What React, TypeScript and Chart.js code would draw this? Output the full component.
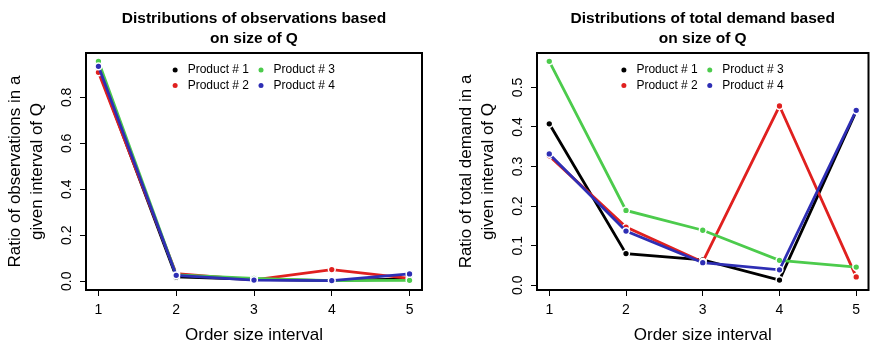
import React, { useEffect, useRef } from "react";
import { Chart, registerables } from "chart.js";

Chart.register(...registerables);

const FONT = "'Liberation Sans', Arial, Helvetica, sans-serif";

// ---- data ----
const ORDER_INTERVALS = [1, 2, 3, 4, 5];
const PRODUCT_NAMES = ["Product # 1", "Product # 2", "Product # 3", "Product # 4"];
const PRODUCT_COLORS = ["#000000", "#E0201F", "#4CCB4C", "#2E2EB4"];

// Left panel: ratio of observations
const OBS_P1 = [0.92, 0.019, 0.008, 0.003, 0.01];
const OBS_P2 = [0.909, 0.033, 0.006, 0.051, 0.013];
const OBS_P3 = [0.957, 0.028, 0.012, 0.003, 0.004];
const OBS_P4 = [0.935, 0.026, 0.005, 0.003, 0.032];
const OBS_Y_TICKS = [0, 0.2, 0.4, 0.6, 0.8];
const OBS_Y_RANGE = [-0.038, 0.993];

// Right panel: ratio of total demand
const DEM_P1 = [0.408, 0.08, 0.064, 0.013, 0.44];
const DEM_P2 = [0.327, 0.147, 0.059, 0.453, 0.021];
const DEM_P3 = [0.566, 0.189, 0.139, 0.063, 0.046];
const DEM_P4 = [0.332, 0.137, 0.057, 0.039, 0.442];
const DEM_Y_TICKS = [0, 0.1, 0.2, 0.3, 0.4, 0.5];
const DEM_Y_RANGE = [-0.012, 0.587];

const X_RANGE = [0.84, 5.16];

const OBS_TITLE = ["Distributions of observations based", "on size of Q"];
const DEM_TITLE = ["Distributions of total demand based", "on size of Q"];
const OBS_Y_TITLE = ["Ratio of observations in a", "given interval of Q"];
const DEM_Y_TITLE = ["Ratio of total demand in a", "given interval of Q"];
const X_TITLE = "Order size interval";

const boxPlugin = {
  id: "rBox",
  afterDatasetsDraw(chart: any) {
    const { ctx, chartArea } = chart;
    ctx.save();
    ctx.strokeStyle = "#000";
    ctx.lineWidth = 2;
    ctx.strokeRect(
      chartArea.left,
      chartArea.top,
      chartArea.right - chartArea.left,
      chartArea.bottom - chartArea.top
    );
    ctx.restore();
  },
};

const legendPlugin = {
  id: "rLegend",
  afterDraw(chart: any) {
    const { ctx, chartArea } = chart;
    ctx.save();
    ctx.font = `12px ${FONT}`;
    ctx.textBaseline = "middle";
    ctx.textAlign = "left";
    const w = Math.max(...PRODUCT_NAMES.map((n) => ctx.measureText(n).width));
    const cx = (chartArea.left + chartArea.right) / 2;
    const gapPt = 12.5;
    const colGap = 12;
    const total = 2 * (gapPt + w) + colGap;
    const x0 = cx - total / 2 + 1;
    const colX = [x0, x0 + gapPt + w + colGap];
    const rowY = [chartArea.top + 17, chartArea.top + 32.5];
    PRODUCT_NAMES.forEach((name, i) => {
      const col = Math.floor(i / 2);
      const row = i % 2;
      const px = colX[col];
      const py = rowY[row];
      ctx.fillStyle = PRODUCT_COLORS[i];
      ctx.beginPath();
      ctx.arc(px, py, 2.5, 0, Math.PI * 2);
      ctx.fill();
      ctx.fillStyle = "#000";
      ctx.fillText(name, px + gapPt, py);
    });
    ctx.restore();
  },
};

function makeConfig(
  series: number[][],
  title: string[],
  yTitle: string[],
  yTicks: number[],
  yRange: number[],
  padLeft: number,
  padRight: number
): any {
  return {
    type: "line",
    data: {
      datasets: series.map((vals, i) => ({
        label: PRODUCT_NAMES[i],
        data: ORDER_INTERVALS.map((x, j) => ({ x, y: vals[j] })),
        borderColor: PRODUCT_COLORS[i],
        backgroundColor: PRODUCT_COLORS[i],
        pointBackgroundColor: PRODUCT_COLORS[i],
        pointBorderColor: "#ffffff",
        pointBorderWidth: 1.5,
        pointRadius: 3.4,
        borderWidth: 2.8,
        tension: 0,
        order: series.length - i,
      })),
    },
    options: {
      responsive: false,
      animation: false,
      events: [],
      layout: { padding: { left: padLeft, right: padRight, top: 0, bottom: 0 } },
      plugins: {
        legend: { display: false },
        tooltip: { enabled: false },
        title: {
          display: true,
          text: title,
          fullSize: false,
          color: "#000",
          font: { family: FONT, size: 15.5, weight: "bold", lineHeight: 20 / 15.5 },
          padding: { top: 9, bottom: 4 },
        },
      },
      scales: {
        x: {
          type: "linear",
          min: X_RANGE[0],
          max: X_RANGE[1],
          afterBuildTicks: (scale: any) => {
            scale.ticks = ORDER_INTERVALS.map((v) => ({ value: v }));
          },
          afterFit: (scale: any) => {
            scale.height = 58;
          },
          border: { display: false },
          grid: {
            drawOnChartArea: false,
            drawTicks: true,
            tickLength: 6,
            color: "#000",
            tickColor: "#000",
            lineWidth: 1,
          },
          ticks: {
            color: "#000",
            font: { family: FONT, size: 14 },
            padding: 5.6,
            autoSkip: false,
            maxRotation: 0,
            minRotation: 0,
            callback: (v: any) => String(v),
          },
          title: {
            display: true,
            text: X_TITLE,
            color: "#000",
            font: { family: FONT, size: 17, lineHeight: 22 / 17 },
            padding: { top: 0, bottom: 2 },
          },
        },
        y: {
          type: "linear",
          min: yRange[0],
          max: yRange[1],
          afterBuildTicks: (scale: any) => {
            scale.ticks = yTicks.map((v) => ({ value: v }));
          },
          afterFit: (scale: any) => {
            scale.width = 86;
          },
          border: { display: false },
          grid: {
            drawOnChartArea: false,
            drawTicks: true,
            tickLength: 6,
            color: "#000",
            tickColor: "#000",
            lineWidth: 1,
          },
          ticks: {
            color: "#000",
            font: { family: FONT, size: 14 },
            padding: 3.6,
            autoSkip: false,
            minRotation: 90,
            maxRotation: 90,
            crossAlign: "center",
            callback: (v: any) => Number(v).toFixed(1),
          },
          title: {
            display: true,
            text: yTitle,
            color: "#000",
            font: { family: FONT, size: 17, lineHeight: 22 / 17 },
            padding: { top: 4, bottom: 0 },
          },
        },
      },
    },
    plugins: [boxPlugin, legendPlugin],
  };
}

function Panel(props: { left: number; config: () => any }) {
  const ref = useRef<HTMLCanvasElement | null>(null);
  useEffect(() => {
    if (!ref.current) return;
    const chart = new Chart(ref.current, props.config());
    return () => chart.destroy();
  }, []);
  return (
    <canvas
      ref={ref}
      width={437}
      height={348}
      style={{ position: "absolute", left: props.left, top: 0, width: 437, height: 348 }}
    />
  );
}

export default function App() {
  return (
    <div
      style={{
        position: "fixed",
        left: 0,
        top: 0,
        width: 874,
        height: 348,
        background: "#ffffff",
        overflow: "hidden",
      }}
    >
      <Panel
        left={0}
        config={() =>
          makeConfig([OBS_P1, OBS_P2, OBS_P3, OBS_P4], OBS_TITLE, OBS_Y_TITLE, OBS_Y_TICKS, OBS_Y_RANGE, 0, 15)
        }
      />
      <Panel
        left={437}
        config={() =>
          makeConfig([DEM_P1, DEM_P2, DEM_P3, DEM_P4], DEM_TITLE, DEM_Y_TITLE, DEM_Y_TICKS, DEM_Y_RANGE, 14, 1)
        }
      />
    </div>
  );
}
